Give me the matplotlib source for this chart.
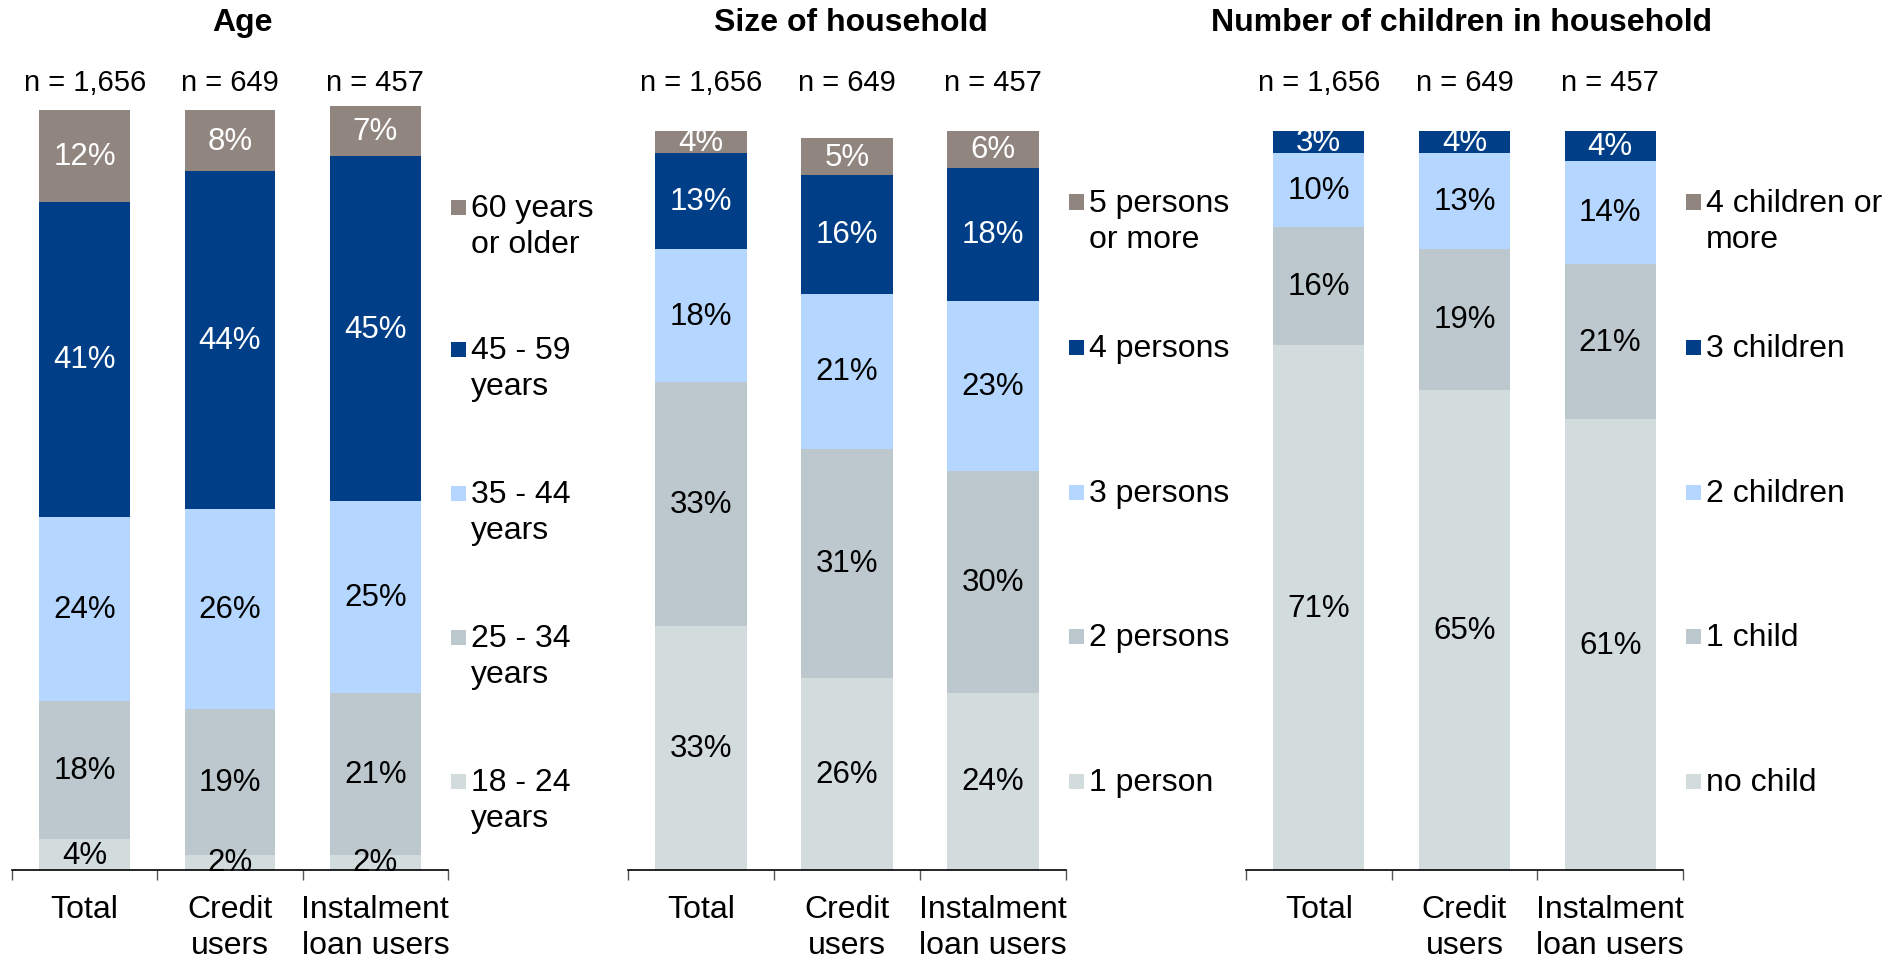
import matplotlib.pyplot as plt
import matplotlib.transforms as mtransforms
from matplotlib.patches import Rectangle

plt.rcParams['font.family'] = ['Liberation Sans', 'DejaVu Sans']

groups = ["Total", "Credit\nusers", "Instalment\nloan users"]
sample_sizes = ["n = 1,656", "n = 649", "n = 457"]

# shares in %, listed from the bottom segment upwards
age_labels = ["18 - 24\nyears", "25 - 34\nyears", "35 - 44\nyears",
              "45 - 59\nyears", "60 years\nor older"]
age_18_24 = [4, 2, 2]
age_25_34 = [18, 19, 21]
age_35_44 = [24, 26, 25]
age_45_59 = [41, 44, 45]
age_60_plus = [12, 8, 7]

household_labels = ["1 person", "2 persons", "3 persons", "4 persons",
                    "5 persons\nor more"]
hh_1 = [33, 26, 24]
hh_2 = [33, 31, 30]
hh_3 = [18, 21, 23]
hh_4 = [13, 16, 18]
hh_5_plus = [4, 5, 6]

children_labels = ["no child", "1 child", "2 children", "3 children",
                   "4 children or\nmore"]
kids_0 = [71, 65, 61]
kids_1 = [16, 19, 21]
kids_2 = [10, 13, 14]
kids_3 = [3, 4, 4]
kids_4_plus = [0.4, 0.5, 0.7]  # too thin to carry a label

colors = ["#D3DCDC", "#BCC8CD", "#B5D7FF", "#003F87", "#918580"]
text_colors = ["black", "black", "black", "white", "white"]

W, H = 1899, 962
BASE = 871
FS = 23        # ticks, legend, titles
FS_PCT = 22.5  # segment labels
FS_N = 21      # sample sizes

fig = plt.figure(figsize=(W / 100, H / 100), dpi=100)


def fx(x):
    return x / W


def fy(y):
    return 1 - y / H


def draw_panel(left, right, top, ymax, title, title_x, series, labels, legend_ys,
               labelled=(True, True, True, True, True)):
    ax = fig.add_axes([fx(left), fy(BASE), (right - left) / W, (BASE - top) / H])
    x = range(len(groups))
    bottom = [0] * len(groups)
    for i, vals in enumerate(series):
        bars = ax.bar(x, vals, width=0.625, bottom=bottom, color=colors[i],
                      linewidth=0)
        if labelled[i]:
            ax.bar_label(bars, labels=[f"{v:g}%" for v in vals],
                         label_type='center', color=text_colors[i],
                         fontsize=FS_PCT)
        bottom = [b + v for b, v in zip(bottom, vals)]

    ax.set_xlim(-0.5, len(groups) - 0.5)
    ax.set_ylim(0, ymax)
    for side in ("top", "left", "right"):
        ax.spines[side].set_visible(False)
    ax.spines["bottom"].set_linewidth(1.2)
    ax.set_yticks([])
    ax.set_xticks(list(x))
    ax.set_xticklabels(groups, fontsize=FS)
    for lab in ax.get_xticklabels():
        lab.set_linespacing(1.29)
    ax.set_xticks([i - 0.5 for i in range(len(groups) + 1)], minor=True)
    ax.tick_params(axis='x', which='major', length=0, pad=17)
    ax.tick_params(axis='x', which='minor', length=7, width=1, color="#555555",
                   direction='out')

    # sample sizes above each bar
    trans = mtransforms.blended_transform_factory(ax.transData, fig.transFigure)
    for i, n in enumerate(sample_sizes):
        ax.text(i, fy(83), n, transform=trans, ha='center', va='center',
                fontsize=FS_N)

    fig.text(fx(title_x), fy(23), title, ha='center', va='center',
             fontsize=FS, fontweight='bold')

    # legend: top category first, square beside the first text line
    sq = 15
    for i, y in zip(range(len(labels) - 1, -1, -1), legend_ys):
        fig.add_artist(Rectangle((fx(right + 3), fy(y + sq / 2)), sq / W, sq / H,
                                 transform=fig.transFigure, color=colors[i],
                                 linewidth=0))
        fig.text(fx(right + 23), fy(y - 14), labels[i], ha='left',
                 va='top', fontsize=FS, linespacing=1.27)
    return ax


draw_panel(12, 448, 107, 99.5, "Age", 242,
           [age_18_24, age_25_34, age_35_44, age_45_59, age_60_plus],
           age_labels, [208, 350, 494, 638, 782])
draw_panel(628, 1066, 132, 100, "Size of household", 851,
           [hh_1, hh_2, hh_3, hh_4, hh_5_plus],
           household_labels, [203, 348, 493, 637, 782])
draw_panel(1246, 1683, 132, 100, "Number of children in household", 1462,
           [kids_0, kids_1, kids_2, kids_3, kids_4_plus],
           children_labels, [203, 348, 493, 637, 782],
           labelled=(True, True, True, True, False))

fig.savefig("out.png", dpi=100)
